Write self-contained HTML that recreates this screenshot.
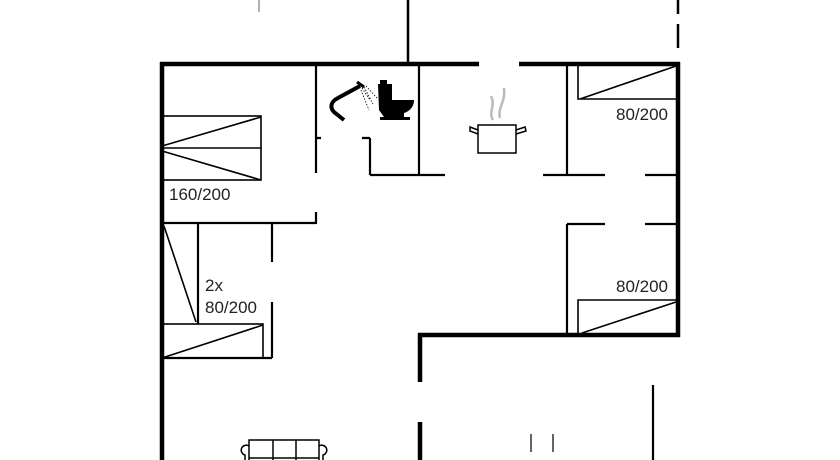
<!DOCTYPE html>
<html><head><meta charset="utf-8"><style>
html,body{margin:0;padding:0;background:#fff;width:840px;height:460px;overflow:hidden}
svg{display:block}
text{font-family:"Liberation Sans",sans-serif;font-size:17px;fill:#222}
</style></head><body>
<svg width="840" height="460" viewBox="0 0 840 460" xmlns="http://www.w3.org/2000/svg">
<g stroke="#000" fill="none" stroke-linecap="butt">
<path d="M259 0 L259 12" stroke-width="1" stroke="#666"/>
<path d="M408 0 V64" stroke-width="2.5"/>
<path d="M678 0 V14 M678 24 V48" stroke-width="2.5"/>
<path d="M160 64 H479" stroke-width="4.5"/>
<path d="M519 64 H680" stroke-width="4.5"/>
<path d="M162 62 V460" stroke-width="4.5"/>
<path d="M678 62 V337" stroke-width="4.5"/>
<path d="M418 335 H680" stroke-width="4.5"/>
<path d="M420 333 V382 M420 422 V460" stroke-width="4.5"/>
<g stroke-width="2.2">
<path d="M316 64 V173 M316 138 H321"/>
<path d="M316 212 V224 M162 223 H316"/>
<path d="M419 64 V175 M370 175 H445 M370 138 V175 M362 138 H370"/>
<path d="M567 64 V175 M543 175 H605 M645 175 H678"/>
<path d="M567 224 H605 M645 224 H678 M567 224 V335"/>
<path d="M198 224 V324 M272 224 V262 M272 302 V358 M162 358 H272"/>
<path d="M653 385 V460"/>
</g>
<g stroke-width="1.6">
<rect x="162" y="116" width="99" height="64"/>
<path d="M162 148 H261 M162 146 L261 117 M162 151 L261 180"/>
<path d="M578 66 V99 H676 M580 99 L676 66"/>
<path d="M578 333 V300 H676 M582 333 L676 302"/>
<path d="M164 226 L196 322"/>
<rect x="162" y="324" width="101" height="34"/>
<path d="M162 358 L263 325"/>
<path d="M531 434 V452 M553 434 V452" stroke-width="1.2"/>
</g>
<g stroke-width="1.5">
<rect x="249" y="440" width="70" height="30"/>
<path d="M273 440 V460 M296 440 V460 M249 458 H319"/>
<path d="M249 446 A5 5 0 1 0 245 455 L245 460 M319 446 A5 5 0 1 1 323 455 L323 460"/>
</g>
<g stroke-width="1.5">
<rect x="478" y="125" width="38" height="28"/>
<path d="M478 130 L470 127 L470 131 L478 134 M516 130 L525 127 L526 131 L516 134"/>
<path d="M493 120 C488 112 496 106 491 96 M500 118 C497 108 506 102 504 88" stroke="#bbb" stroke-width="2.5"/>
</g>
<path d="M360 86 L338 98 C330 102 330 108 334 112 L344 120" stroke-width="4"/>
<path d="M357 82 L364 87" stroke-width="3"/>
<g stroke-width="0.8" stroke-dasharray="1.5 1.5">
<path d="M362 88 L370 100 M364 87 L373 104 M366 86 L377 98 M361 90 L369 110"/>
</g>
</g>
<g fill="#000">
<rect x="380" y="80" width="7" height="5"/>
<path d="M378 84 H392 V100 H414 C414 108 408 112 404 113 V117 H410 V120 H380 V117 H384 L379 110 Z"/>
</g>
<text x="169" y="200">160/200</text>
<text x="616" y="120">80/200</text>
<text x="205" y="291">2x</text>
<text x="205" y="313">80/200</text>
<text x="616" y="292">80/200</text>
</svg>
</body></html>
